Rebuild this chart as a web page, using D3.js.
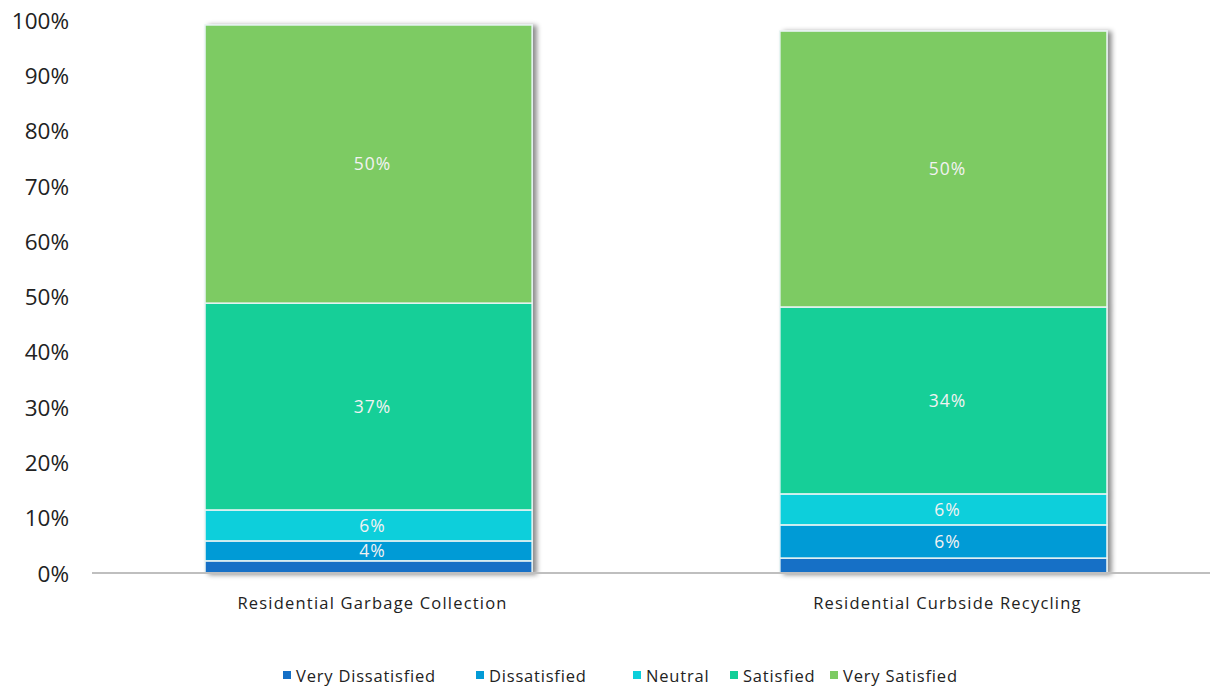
<!DOCTYPE html>
<html>
<head>
<meta charset="utf-8">
<script src="https://cdn.jsdelivr.net/npm/d3@7"></script>
<style>
  body { margin: 0; background: #fff; }
  svg { display: block; }
</style>
</head>
<body>
<svg id="chart"></svg>
<script>
var screen = {width: 1212, height: 687};

// data (percent)
var categories = ["Residential Garbage Collection", "Residential Curbside Recycling"];
var seriesNames = ["Very Dissatisfied", "Dissatisfied", "Neutral", "Satisfied", "Very Satisfied"];
var veryDissatisfied = [2.2, 2.7];
var dissatisfied = [3.6, 6.0];
var neutral = [5.6, 5.6];
var satisfied = [37.4, 33.8];
var verySatisfied = [50.3, 49.9];
var labelsShown = [["", "4%", "6%", "37%", "50%"], ["", "6%", "6%", "34%", "50%"]];
var yTicks = [0, 10, 20, 30, 40, 50, 60, 70, 80, 90, 100];

var colors = ["#146fc6", "#029bd6", "#0ccfdb", "#12cf98", "#7dcb63"];

var rows = categories.map(function(c, i) {
    return {
        cat: c, idx: i,
        "Very Dissatisfied": veryDissatisfied[i],
        "Dissatisfied": dissatisfied[i],
        "Neutral": neutral[i],
        "Satisfied": satisfied[i],
        "Very Satisfied": verySatisfied[i]
    };
});

var svg = d3.select("#chart")
    .attr("width", screen.width)
    .attr("height", screen.height);

var defs = svg.append("defs");
var f = defs.append("filter").attr("id", "shadow")
    .attr("x", "-5%").attr("y", "-5%").attr("width", "115%").attr("height", "115%");
f.append("feDropShadow")
    .attr("dx", 4).attr("dy", 1).attr("stdDeviation", 2.5)
    .attr("flood-color", "#000").attr("flood-opacity", 0.45);

var xScale = d3.scaleBand()
    .domain(categories)
    .range([105, 1207])
    .paddingInner(0.431)
    .paddingOuter(0.174);

var yScale = d3.scaleLinear()
    .domain([0, 100])
    .range([573, 20]);

var cScale = d3.scaleOrdinal().domain(seriesNames).range(colors);

// y axis labels
var yAxis = d3.axisLeft(yScale)
    .tickValues(yTicks)
    .tickSize(0)
    .tickPadding(0)
    .tickFormat(function(d) { return d + "%"; });

svg.append("g")
    .attr("transform", "translate(69,0)")
    .call(yAxis)
    .call(function(g) {
        g.select(".domain").remove();
        g.selectAll("text")
            .attr("font-family", "'Open Sans', 'DejaVu Sans', sans-serif")
            .attr("font-size", 22.5)
            .attr("fill", "#222")
            .attr("dy", "0.36em");
    });

var stack = d3.stack().keys(seriesNames);
var stacked = stack(rows);

// bars with shadow
var barGroup = svg.append("g");
categories.forEach(function(c, i) {
    var g = barGroup.append("g").attr("filter", "url(#shadow)");
    stacked.forEach(function(layer, k) {
        var d = layer[i];
        g.append("rect")
            .attr("x", xScale(c))
            .attr("width", xScale.bandwidth())
            .attr("y", yScale(d[1]))
            .attr("height", yScale(d[0]) - yScale(d[1]))
            .attr("fill", cScale(layer.key))
            .attr("stroke", "#e8f4f4")
            .attr("stroke-width", 1.5);
    });
});

// segment labels
stacked.forEach(function(layer, k) {
    layer.forEach(function(d, i) {
        var txt = labelsShown[i][k];
        if (!txt) return;
        svg.append("text")
            .attr("x", xScale(categories[i]) + xScale.bandwidth() / 2 + 4)
            .attr("y", (yScale(d[0]) + yScale(d[1])) / 2)
            .attr("dy", "0.35em")
            .attr("text-anchor", "middle")
            .attr("font-family", "'Open Sans', 'DejaVu Sans', sans-serif")
            .attr("font-size", 17.5)
            .attr("letter-spacing", "1px")
            .attr("fill", "#f2f2f2")
            .text(txt);
    });
});

// x axis line and category labels
var xAxis = d3.axisBottom(xScale).tickSize(0).tickPadding(0);
svg.append("line")
    .attr("x1", 92).attr("x2", 1210)
    .attr("y1", yScale(0)).attr("y2", yScale(0))
    .attr("stroke", "#bfbfbf")
    .attr("stroke-width", 2);
svg.append("g")
    .attr("transform", "translate(4,573)")
    .call(xAxis)
    .call(function(g) {
        g.select(".domain").remove();
        g.selectAll("text")
            .attr("y", 36)
            .attr("dy", "0")
            .attr("font-family", "'Open Sans', 'DejaVu Sans', sans-serif")
            .attr("font-size", 16.5)
            .attr("letter-spacing", "1.2px")
            .attr("fill", "#222");
    });

// legend
var legendX = [283, 476, 633, 730, 830];
var legend = svg.append("g");
seriesNames.forEach(function(name, k) {
    legend.append("rect")
        .attr("x", legendX[k])
        .attr("y", 671)
        .attr("width", 8)
        .attr("height", 8)
        .attr("fill", colors[k]);
    legend.append("text")
        .attr("x", legendX[k] + 13)
        .attr("y", 682)
        .attr("font-family", "'Open Sans', 'DejaVu Sans', sans-serif")
        .attr("font-size", 16.5)
        .attr("letter-spacing", "0.8px")
        .attr("fill", "#222")
        .text(name);
});
</script>
</body>
</html>
